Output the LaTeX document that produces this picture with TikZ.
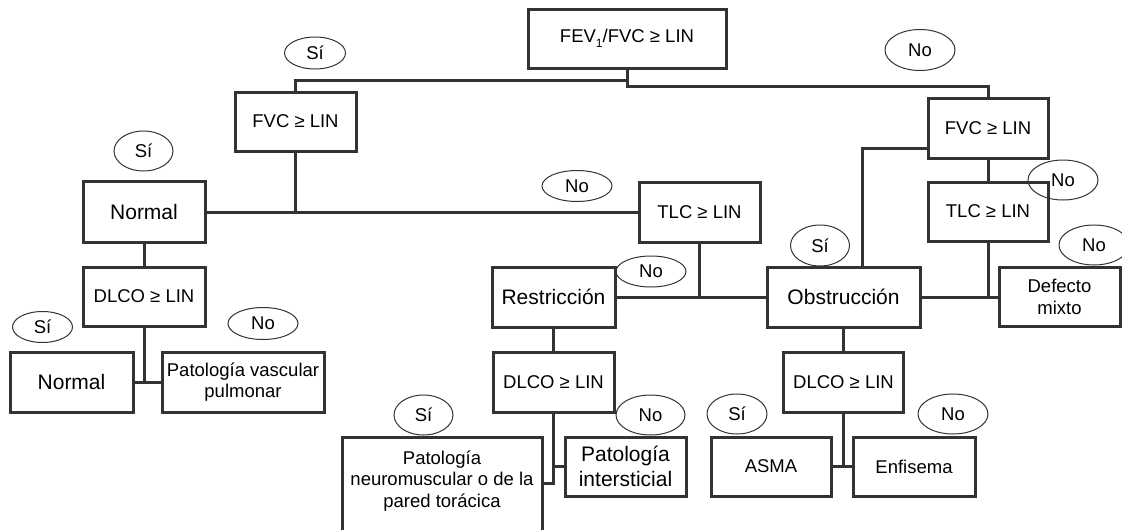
\documentclass[tikz,border=0pt]{standalone}
\usepackage{fontspec}
\setmainfont{Liberation Sans}
\usetikzlibrary{shapes.geometric}
\definecolor{ln}{HTML}{333333}
\begin{document}
\begin{tikzpicture}[x=1pt,y=-1pt,
  box/.style={draw=ln,line width=3pt,inner sep=0pt,align=center,font=\fontsize{18.5}{21.5}\selectfont},
  big/.style={font=\fontsize{21}{25}\selectfont},
  oval/.style={draw=ln,line width=1pt,ellipse,inner sep=0pt,font=\fontsize{18.5}{21}\selectfont},
  conn/.style={draw=ln,line width=3pt}]
\useasboundingbox (0,0) rectangle (1122,530);
% boxes
\node[box,minimum width=198pt,minimum height=59pt] (fev) at (627,38.5) {FEV\raisebox{-0.3em}{\fontsize{12}{12}\selectfont 1}/FVC ≥ LIN};
\node[box,minimum width=121pt,minimum height=59pt] (fvcL) at (295.5,121.5) {FVC ≥ LIN};
\node[box,minimum width=120pt,minimum height=60pt] (fvcR) at (988,128) {FVC ≥ LIN};
\node[box,big,minimum width=122pt,minimum height=61pt] (normU) at (144,212) {Normal};
\node[box,minimum width=121pt,minimum height=60pt] (tlcM) at (699.5,212) {TLC ≥ LIN};
\node[box,minimum width=120pt,minimum height=59pt] (tlcR) at (988,211.5) {TLC ≥ LIN};
\node[box,minimum width=122pt,minimum height=59pt] (dlcoL) at (144,296.5) {DLCO ≥ LIN};
\node[box,big,minimum width=123pt,minimum height=60pt] (restr) at (553.5,297) {Restricción};
\node[box,big,minimum width=153pt,minimum height=60pt] (obstr) at (843.5,297) {Obstrucción};
\node[box,minimum width=121pt,minimum height=59pt] (mixto) at (1059.5,297) {Defecto\\mixto};
\node[box,big,minimum width=123pt,minimum height=60pt] (normB) at (71.5,382) {Normal};
\node[box,minimum width=162pt,minimum height=60pt] (vasc) at (243,382) {Patología vascular\\pulmonar};
\node[box,minimum width=121pt,minimum height=60pt] (dlcoM) at (553.5,382) {DLCO ≥ LIN};
\node[box,minimum width=120pt,minimum height=60pt] (dlcoR) at (843.5,382) {DLCO ≥ LIN};
\node[box,minimum width=200pt,minimum height=120pt] (neuro) at (442,497) {};
\node[align=center,inner sep=0pt,font=\fontsize{18.5}{21.5}\selectfont] (neurotxt) at (442,481) {Patología\\neuromuscular o de la\\pared torácica};
\node[box,big,minimum width=121pt,minimum height=59pt] (inter) at (625.5,466.5) {Patología\\intersticial};
\node[box,minimum width=120pt,minimum height=59pt] (asma) at (771,466.5) {ASMA};
\node[box,minimum width=122pt,minimum height=59pt] (enf) at (914,466.5) {Enfisema};
% ovals
\node[oval,minimum width=61pt,minimum height=32pt] (o1) at (315,53) {Sí};
\node[oval,minimum width=70pt,minimum height=41pt] (o2) at (920,50) {No};
\node[oval,minimum width=59pt,minimum height=40pt] (o3) at (143.5,151) {Sí};
\node[oval,minimum width=70pt,minimum height=31pt] (o4) at (577,186) {No};
\node[oval,minimum width=70pt,minimum height=31pt] (o5) at (651,271.5) {No};
\node[oval,minimum width=59pt,minimum height=41pt] (o6) at (820,245.5) {Sí};
\node[oval,minimum width=70pt,minimum height=40pt] (o7) at (1063,180) {No};
\node[oval,minimum width=70pt,minimum height=40pt] (o8) at (1094,245) {No};
\node[oval,minimum width=60pt,minimum height=31pt] (o9) at (42.5,327) {Sí};
\node[oval,minimum width=70pt,minimum height=32pt] (o10) at (263,323.5) {No};
\node[oval,minimum width=59pt,minimum height=40pt] (o11) at (423.5,415) {Sí};
\node[oval,minimum width=69pt,minimum height=40pt] (o12) at (650.5,415) {No};
\node[oval,minimum width=60pt,minimum height=40pt] (o13) at (737,414) {Sí};
\node[oval,minimum width=70pt,minimum height=40pt] (o14) at (953,414) {No};
% connectors
\draw[conn] (fev.south) -- ++(0,11) -| (fvcL.north);
\draw[conn] (fev.south) -- ++(0,17) -| (fvcR.north);
\draw[conn] (normU.east) -- (tlcM.west);
\draw[conn] (fvcL.south) -- (fvcL.south |- normU.east);
\draw[conn] ([yshift=-20pt]fvcR.west) -| ([xshift=18.5pt]obstr.north);
\draw[conn] (fvcR.south) -- (tlcR.north);
\draw[conn] (obstr.east) -- (mixto.west);
\draw[conn] (tlcR.south) -- (tlcR.south |- obstr.east);
\draw[conn] (restr.east) -- (obstr.west);
\draw[conn] (tlcM.south) -- (tlcM.south |- restr.east);
\draw[conn] (normU.south) -- (dlcoL.north);
\draw[conn] (normB.east) -- (vasc.west);
\draw[conn] (dlcoL.south) -- (dlcoL.south |- normB.east);
\draw[conn] (restr.south) -- (dlcoM.north);
\coordinate (j1) at (553.5,483);
\draw[conn] (dlcoM.south) -- (j1) -- (j1 -| neuro.east);
\draw[conn] (dlcoM.south |- inter.west) -- (inter.west);
\draw[conn] (obstr.south) -- (dlcoR.north);
\draw[conn] (asma.east) -- (enf.west);
\draw[conn] (dlcoR.south) -- (dlcoR.south |- asma.east);
\end{tikzpicture}
\end{document}
